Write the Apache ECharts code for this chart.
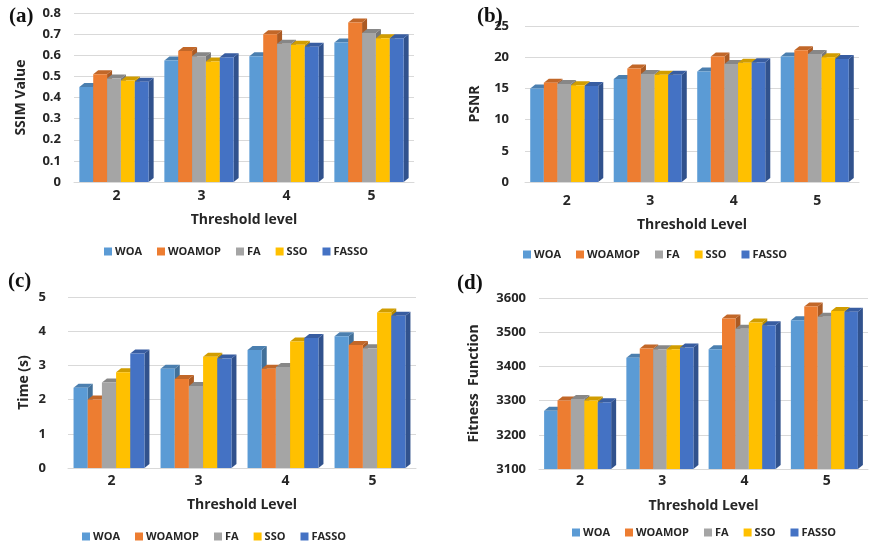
<!DOCTYPE html>
<html>
<head>
<meta charset="utf-8">
<script src="https://cdn.jsdelivr.net/npm/echarts@6/dist/echarts.min.js"></script>
<style>
  html, body { margin: 0; padding: 0; background: #fff; }
  #main { width: 876px; height: 546px; }
</style>
</head>
<body>
<div id="main"></div>
<script>
// categories (threshold levels) and algorithm names
var levels = ['2', '3', '4', '5'];
var algos = ['WOA', 'WOAMOP', 'FA', 'SSO', 'FASSO'];
var colors = ['#5b9bd5', '#ed7d31', '#a5a5a5', '#ffc000', '#4472c4'];

// (a) SSIM, one array per algorithm, in level order 2..5
var ssimWOA    = [0.45, 0.575, 0.595, 0.66];
var ssimWOAMOP = [0.51, 0.62, 0.70, 0.755];
var ssimFA     = [0.49, 0.595, 0.655, 0.705];
var ssimSSO    = [0.48, 0.57, 0.65, 0.68];
var ssimFASSO  = [0.475, 0.59, 0.64, 0.68];

// (b) PSNR
var psnrWOA    = [15.0, 16.5, 17.7, 20.1];
var psnrWOAMOP = [15.9, 18.2, 20.1, 21.1];
var psnrFA     = [15.7, 17.3, 18.9, 20.5];
var psnrSSO    = [15.5, 17.2, 19.1, 20.0];
var psnrFASSO  = [15.4, 17.2, 19.2, 19.7];

// (c) time in seconds
var timeWOA    = [2.35, 2.9, 3.45, 3.85];
var timeWOAMOP = [2.0, 2.6, 2.9, 3.6];
var timeFA     = [2.5, 2.4, 2.95, 3.5];
var timeSSO    = [2.8, 3.25, 3.7, 4.55];
var timeFASSO  = [3.35, 3.2, 3.8, 4.45];

// (d) fitness function
var fitWOA    = [3270, 3425, 3450, 3535];
var fitWOAMOP = [3300, 3452, 3540, 3575];
var fitFA     = [3305, 3450, 3510, 3545];
var fitSSO    = [3300, 3450, 3528, 3562];
var fitFASSO  = [3295, 3455, 3520, 3560];

var panels = [
  { tag: '(a)', yName: 'SSIM Value', xName: 'Threshold level', min: 0, max: 0.8, step: 0.1,
    data: [ssimWOA, ssimWOAMOP, ssimFA, ssimSSO, ssimFASSO],
    grid: { left: 74, top: 13, width: 340, height: 169 },
    tagPos: [4, 1], labelMargin: 7, xGap: 31, yGap: 46, yLabelMargin: 13,
    legend: { left: 99, top: 241 } },
  { tag: '(b)', yName: 'PSNR', xName: 'Threshold Level', min: 0, max: 25, step: 5,
    data: [psnrWOA, psnrWOAMOP, psnrFA, psnrSSO, psnrFASSO],
    grid: { left: 525, top: 26, width: 334, height: 156 },
    tagPos: [472, 1], labelMargin: 12, xGap: 36, yGap: 43, yLabelMargin: 16,
    legend: { left: 518, top: 244 } },
  { tag: '(c)', yName: 'Time (s)', xName: 'Threshold Level', min: 0, max: 5, step: 1,
    data: [timeWOA, timeWOAMOP, timeFA, timeSSO, timeFASSO],
    grid: { left: 68, top: 297, width: 348, height: 171 },
    tagPos: [3, 266], labelMargin: 6, xGap: 30, yGap: 37, yLabelMargin: 22,
    legend: { left: 77, top: 526 } },
  { tag: '(d)', yName: 'Fitness  Function', xName: 'Threshold Level', min: 3100, max: 3600, step: 100,
    data: [fitWOA, fitWOAMOP, fitFA, fitSSO, fitFASSO],
    grid: { left: 539, top: 298, width: 329, height: 171 },
    tagPos: [452, 268], labelMargin: 5, xGap: 30, yGap: 58, yLabelMargin: 13,
    legend: { left: 567, top: 522 } }
];

function shade(hex, f) {
  var n = parseInt(hex.slice(1), 16);
  var r = Math.round(((n >> 16) & 255) * f);
  var g = Math.round(((n >> 8) & 255) * f);
  var b = Math.round((n & 255) * f);
  return 'rgb(' + r + ',' + g + ',' + b + ')';
}

// 3d-looking column: front face, top face and right side face
function makeRender(seriesIdx, base) {
  var col = colors[seriesIdx];
  return function (params, api) {
    var top = api.coord([api.value(0), api.value(1)]);
    var bottom = api.coord([api.value(0), base]);
    var band = api.size([1, 0])[0];
    var w = band * 0.163;
    var dx = 5, dy = 4;
    var x0 = top[0] - (5 * w) / 2 - dx / 2 + seriesIdx * w;
    var x1 = x0 + w;
    return {
      type: 'group',
      children: [
        { type: 'polygon', shape: { points: [[x1, top[1]], [x1 + dx, top[1] - dy], [x1 + dx, bottom[1] - dy], [x1, bottom[1]]] },
          style: { fill: shade(col, 0.72) } },
        { type: 'polygon', shape: { points: [[x0, top[1]], [x0 + dx, top[1] - dy], [x1 + dx, top[1] - dy], [x1, top[1]]] },
          style: { fill: shade(col, 0.82) } },
        { type: 'rect', shape: { x: x0, y: top[1], width: w, height: bottom[1] - top[1] },
          style: { fill: col } }
      ]
    };
  };
}

var axisText = { color: '#262626', fontFamily: 'Open Sans', fontWeight: 'bold' };

var option = {
  backgroundColor: '#fff',
  animation: false,
  title: [], grid: [], xAxis: [], yAxis: [], legend: [], series: []
};

panels.forEach(function (p, i) {
  option.title.push({
    text: p.tag, left: p.tagPos[0], top: p.tagPos[1],
    textStyle: { fontFamily: 'Liberation Serif', fontWeight: 'bold', fontSize: 21, color: '#111' }
  });
  option.grid.push(p.grid);
  option.xAxis.push({
    type: 'category', gridIndex: i, data: levels,
    name: p.xName, nameLocation: 'middle', nameGap: p.xGap,
    nameTextStyle: Object.assign({ fontSize: 14 }, axisText),
    axisLine: { show: true, lineStyle: { color: '#d9d9d9' } },
    axisTick: { show: false },
    axisLabel: Object.assign({ fontSize: 14, margin: p.labelMargin }, axisText)
  });
  option.yAxis.push({
    type: 'value', gridIndex: i, min: p.min, max: p.max, interval: p.step,
    name: p.yName, nameLocation: 'middle', nameGap: p.yGap,
    nameTextStyle: Object.assign({ fontSize: 14 }, axisText),
    axisLine: { show: false }, axisTick: { show: false },
    axisLabel: Object.assign({
      fontSize: 13, margin: p.yLabelMargin,
      formatter: function (v) { return String(Math.round(v * 10) / 10); }
    }, axisText),
    splitLine: { lineStyle: { color: '#d9d9d9' } }
  });
  option.legend.push({
    data: algos, left: p.legend.left, top: p.legend.top,
    icon: 'rect', itemWidth: 8, itemHeight: 8, itemGap: 15,
    textStyle: { fontFamily: 'Open Sans', fontWeight: 'bold', fontSize: 11, color: '#262626', padding: [0, 0, 0, -2] }
  });
  algos.forEach(function (name, s) {
    option.series.push({
      type: 'custom', name: name, xAxisIndex: i, yAxisIndex: i,
      itemStyle: { color: colors[s] },
      encode: { x: 0, y: 1 },
      z: 2 + s,
      renderItem: makeRender(s, p.min),
      data: p.data[s].map(function (v, k) { return [k, v]; })
    });
  });
});

var chart = echarts.init(document.getElementById('main'));
chart.setOption(option);
</script>
</body>
</html>
